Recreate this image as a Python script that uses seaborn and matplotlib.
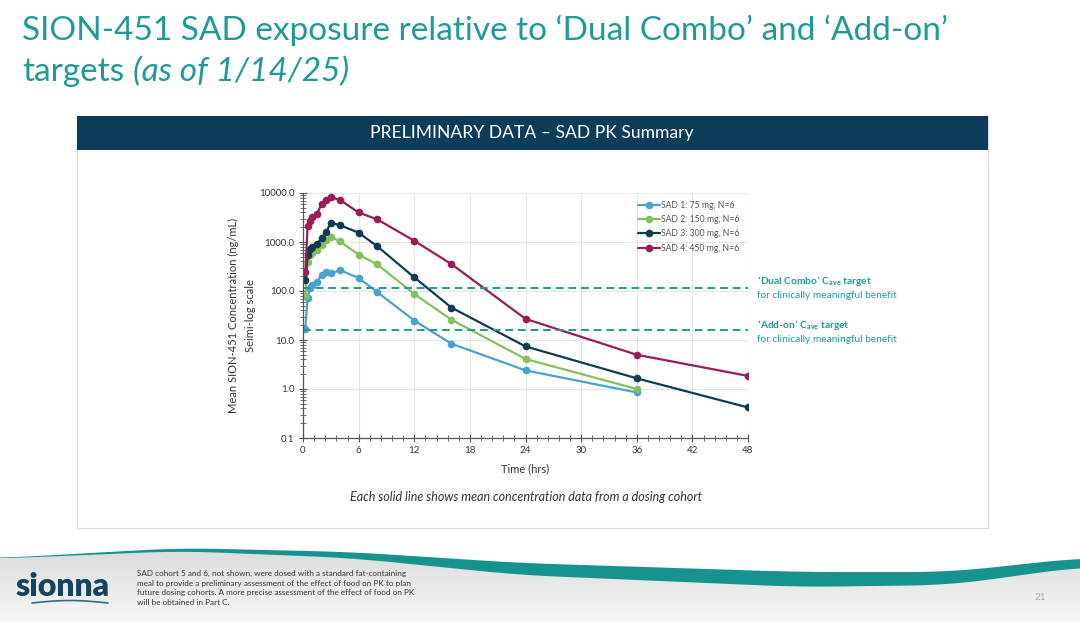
import numpy as np
import pandas as pd
import seaborn as sns
import matplotlib.pyplot as plt
from matplotlib.patches import Rectangle, Polygon
from matplotlib.ticker import FixedLocator, MultipleLocator, LogLocator, NullFormatter

# Zeitpunkte (h)
zeit_kurz = [0.25, 0.5, 0.75, 1, 1.5, 2, 2.5, 3, 4, 6, 8, 12, 16, 24, 36]
zeit_lang = [0.25, 0.5, 0.75, 1, 1.5, 2, 2.5, 3, 4, 6, 8, 12, 16, 24, 36, 48]

# Mittlere Konzentrationen (ng/mL)
sad1_75mg = [17, 72, 115, 135, 150, 215, 245, 230, 265, 185, 95, 25, 8.4, 2.4, 0.85]
sad2_150mg = [80, 390, 550, 600, 680, 850, 1100, 1250, 1030, 550, 350, 87, 26, 4.1, 1.0]
sad3_300mg = [165, 540, 730, 800, 910, 1200, 1600, 2450, 2200, 1550, 820, 190, 46, 7.4, 1.65, 0.42]
sad4_450mg = [240, 2150, 2700, 3200, 3700, 6000, 7200, 8300, 7200, 4000, 2900, 1060, 355, 27, 5.0, 1.85]

kohorten = ["SAD 1: 75 mg, N=6", "SAD 2: 150 mg, N=6", "SAD 3: 300 mg, N=6", "SAD 4: 450 mg, N=6"]
farben = ["#4aa3cc", "#86bf5e", "#0f3b53", "#9b1c58"]

# Zielwerte
dual_combo_ziel = 115
add_on_ziel = 16

y_ticks = [0.1, 1, 10, 100, 1000, 10000]
x_ticks = [0, 6, 12, 18, 24, 30, 36, 42, 48]

teal = "#1f9a96"
navy = "#0c3c5a"

sns.set_theme(style="white")
plt.rcParams["font.family"] = ["Lato", "DejaVu Sans"]

fig = plt.figure(figsize=(10.8, 6.3), dpi=100)

# Hintergrund / Dekoration in Pixelkoordinaten
bg = fig.add_axes([0, 0, 1, 1], zorder=-5)
bg.set_xlim(0, 1080)
bg.set_ylim(630, 0)
bg.axis("off")

# Fusszeile: Welle und grauer Verlauf
xs = np.linspace(0, 1080, 400)
kx = [0, 20, 180, 350, 520, 800, 950, 1080]
k_oben = [558, 557, 548, 552, 563, 572, 572, 558]
k_dicke = [0.5, 0.8, 3, 6, 12, 15, 13, 9]
glatt = np.ones(31) / 31
oben = np.convolve(np.pad(np.interp(xs, kx, k_oben), 15, mode="edge"), glatt, mode="valid")
dicke = np.convolve(np.pad(np.interp(xs, kx, k_dicke), 15, mode="edge"), glatt, mode="valid")
unten = oben + dicke

grau = np.linspace(0.85, 0.97, 80).reshape(-1, 1) * np.ones((1, 60))
grau_rgb = np.dstack([grau, grau, grau])
img = bg.imshow(grau_rgb, extent=[0, 1080, 622, 542], aspect="auto", zorder=0)
clip = Polygon(np.column_stack([np.r_[xs, 1080, 0], np.r_[oben + 1, 622, 622]]),
               closed=True, transform=bg.transData)
img.set_clip_path(clip)
bg.fill_between(xs, oben, unten, color="#16938f", lw=0, zorder=1)

bg.text(16, 586, "sionna", color="#17435c", fontsize=23, fontweight="heavy", va="center", ha="left")
bg.plot(np.linspace(32, 108, 50), 603 - 2.5 * np.sin(np.linspace(0, np.pi, 50)), color="#2a6f85", lw=1.2)
bg.text(137, 588,
        "SAD cohort 5 and 6, not shown, were dosed with a standard fat-containing\n"
        "meal to provide a preliminary assessment of the effect of food on PK to plan\n"
        "future dosing cohorts. A more precise assessment of the effect of food on PK\n"
        "will be obtained in Part C.",
        fontsize=5.9, color="#333333", va="center", ha="left", linespacing=1.4)
bg.text(1040, 598, "21", fontsize=7, color="#aaaaaa", ha="center", va="center")

# Panel
bg.add_patch(Rectangle((77, 116), 911, 412, facecolor="white", edgecolor="#dddddd", lw=0.8, zorder=2))
bg.add_patch(Rectangle((77, 116), 911, 34, facecolor=navy, edgecolor="none", zorder=3))
bg.text(532, 133, "PRELIMINARY DATA \u2013 SAD PK Summary", color="white", fontsize=12.6,
        ha="center", va="center", zorder=4)

# Titel
bg.text(22, 30, "SION-451 SAD exposure relative to \u2018Dual Combo\u2019 and \u2018Add-on\u2019",
        color=teal, fontsize=24, ha="left", va="center")
t1 = bg.text(22, 72, "targets", color=teal, fontsize=24, ha="left", va="center")
r = fig.canvas.get_renderer()
ende = t1.get_window_extent(renderer=r).x1
bg.text(ende + 9, 72, "(as of 1/14/25)", color=teal, fontsize=24,
        style="italic", ha="left", va="center")

# Diagramm
ax = fig.add_axes([303 / 1080, 1 - 438 / 630, 445 / 1080, 245 / 630])

daten = [(zeit_kurz, sad1_75mg), (zeit_kurz, sad2_150mg), (zeit_lang, sad3_300mg), (zeit_lang, sad4_450mg)]
for (zeit, werte), name, farbe in zip(daten, kohorten, farben):
    df = pd.DataFrame({"Zeit": zeit, "Konz": werte})
    sns.lineplot(data=df, x="Zeit", y="Konz", ax=ax, color=farbe, marker="o", markersize=5.5,
                 markeredgewidth=0, lw=1.6, label=name)

ax.axhline(dual_combo_ziel, color=teal, ls=(0, (4, 2.5)), lw=1.4)
ax.axhline(add_on_ziel, color=teal, ls=(0, (4, 2.5)), lw=1.4)

ax.set_yscale("log")
ax.set_ylim(0.1, 10000)
ax.set_xlim(0, 48)
ax.yaxis.set_major_locator(FixedLocator(y_ticks))
ax.set_yticklabels([f"{v:.1f}" for v in y_ticks])
ax.yaxis.set_minor_locator(LogLocator(base=10, subs=np.arange(2, 10)))
ax.yaxis.set_minor_formatter(NullFormatter())
ax.xaxis.set_major_locator(FixedLocator(x_ticks))
ax.xaxis.set_minor_locator(MultipleLocator(1.2))
ax.tick_params(axis="both", which="major", direction="inout", length=6, width=0.8,
               color="#555555", labelsize=7, labelcolor="#333333", pad=3)
ax.tick_params(axis="both", which="minor", direction="inout", length=4, width=0.6, color="#555555")
ax.tick_params(left=True, bottom=True, which="both")
ax.grid(True, which="major", color="#e6e6e6", lw=0.8)
for s in ["top", "right"]:
    ax.spines[s].set_visible(False)
for s in ["left", "bottom"]:
    ax.spines[s].set_color("#555555")
    ax.spines[s].set_linewidth(0.9)

ax.set_xlabel("Time (hrs)", fontsize=8, color="#333333", labelpad=6)
ax.set_ylabel("Mean SION-451 Concentration (ng/mL)\nSeimi-log scale", fontsize=8,
              color="#333333", labelpad=2, linespacing=1.7)

leg = ax.legend(loc="upper left", bbox_to_anchor=((638 - 303) / 445, 0.969), frameon=False,
                fontsize=6.2, handlelength=2.55, handletextpad=0.1, labelspacing=0.63,
                borderaxespad=0, borderpad=0)
for t in leg.get_texts():
    t.set_color("#555555")

# Zielbeschriftungen
bg.text(757, 281, "\u2018Dual Combo\u2019 C$_{\\mathregular{ave}}$ target", color=teal,
        fontsize=7.3, fontweight="bold", ha="left", va="center")
bg.text(757, 295, "for clinically meaningful benefit", color=teal, fontsize=7.3, ha="left", va="center")
bg.text(757, 325, "\u2018Add-on\u2019 C$_{\\mathregular{ave}}$ target", color=teal,
        fontsize=7.3, fontweight="bold", ha="left", va="center")
bg.text(757, 339, "for clinically meaningful benefit", color=teal, fontsize=7.3, ha="left", va="center")

bg.text(526, 497, "Each solid line shows mean concentration data from a dosing cohort",
        fontsize=9, style="italic", color="#333333", ha="center", va="center", zorder=5)

fig.savefig("out.png", dpi=100)
